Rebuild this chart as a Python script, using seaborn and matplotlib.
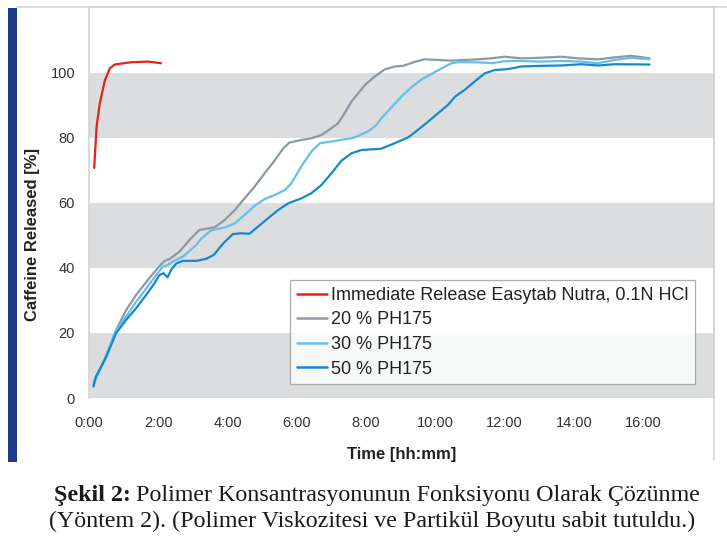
import numpy as np
import pandas as pd
import matplotlib
matplotlib.use("Agg")
import matplotlib.pyplot as plt
import seaborn as sns
from matplotlib.ticker import FuncFormatter, FixedLocator
from matplotlib.patches import Rectangle
from matplotlib.lines import Line2D

# time in hours, caffeine released in %
red_t = [0.15, 0.22, 0.31, 0.46, 0.60, 0.74, 1.22, 1.71, 2.08]
red_v = [70.8, 83.6, 90.6, 97.8, 101.4, 102.6, 103.3, 103.5, 103.0]

ph20_t = [0.13, 0.16, 0.40, 0.64, 0.83, 1.07, 1.36, 1.70, 1.98, 2.18, 2.32, 2.61, 2.90,
          3.19, 3.63, 3.92, 4.21, 4.49, 4.78, 5.07, 5.37, 5.61, 5.79, 6.13, 6.42, 6.71,
          7.00, 7.19, 7.38, 7.58, 7.77, 7.97, 8.25, 8.54, 8.83, 9.07, 9.40, 9.69, 10.08,
          10.47, 10.85, 11.23, 11.62, 12.00, 12.49, 13.07, 13.64, 14.12, 14.70, 15.18,
          15.66, 16.19]
ph20_v = [4.0, 5.5, 10.7, 16.8, 21.9, 27.0, 31.7, 36.3, 39.9, 42.2, 42.7, 45.0, 48.6,
          51.7, 52.5, 54.8, 57.8, 61.4, 65.0, 69.1, 73.2, 76.8, 78.6, 79.4, 79.9, 80.9,
          83.0, 84.5, 87.6, 91.2, 93.7, 96.3, 98.9, 101.1, 102.0, 102.2, 103.4, 104.2, 104.0,
          103.8, 104.0, 104.2, 104.5, 105.0, 104.5, 104.7, 105.0, 104.5, 104.2, 104.8,
          105.3, 104.5]

ph30_t = [0.16, 0.40, 0.78, 1.07, 1.36, 1.65, 1.94, 2.13, 2.27, 2.42, 2.71, 3.10, 3.24,
          3.52, 3.92, 4.21, 4.49, 4.78, 5.07, 5.37, 5.66, 5.84, 6.13, 6.42, 6.67, 7.00,
          7.38, 7.58, 7.77, 8.10, 8.30, 8.44, 8.73, 9.02, 9.31, 9.60, 9.89, 10.18, 10.47,
          10.66, 11.04, 11.43, 11.62, 12.00, 12.40, 13.07, 13.64, 14.22, 14.70, 15.18,
          15.66, 16.19]
ph30_v = [5.0, 10.5, 20.9, 25.0, 29.6, 33.7, 37.8, 40.4, 40.9, 42.0, 43.5, 47.1, 49.0,
          51.5, 52.5, 53.7, 56.3, 59.1, 61.2, 62.5, 64.0, 66.0, 71.2, 75.8, 78.4, 78.9,
          79.6, 79.9, 80.6, 82.3, 84.0, 86.0, 89.4, 92.7, 95.6, 98.0, 99.7, 101.4, 103.0,
          103.3, 103.3, 103.2, 103.0, 103.6, 103.7, 103.5, 103.7, 103.5, 103.0, 104.0,
          104.7, 104.2]

ph50_t = [0.13, 0.20, 0.50, 0.78, 1.07, 1.36, 1.65, 1.89, 2.03, 2.15, 2.27, 2.37, 2.52,
          2.71, 3.10, 3.38, 3.60, 3.88, 4.15, 4.40, 4.63, 4.88, 5.17, 5.46, 5.75, 6.13,
          6.42, 6.71, 7.00, 7.29, 7.58, 7.87, 8.44, 8.83, 9.22, 9.50, 9.79, 10.08, 10.37,
          10.57, 10.85, 11.14, 11.43, 11.72, 12.10, 12.49, 13.07, 13.64, 14.22, 14.70,
          15.18, 16.19]
ph50_v = [3.5, 6.6, 12.7, 19.9, 24.0, 27.6, 31.7, 35.3, 37.8, 38.4, 37.1, 39.4, 41.4,
          42.2, 42.2, 42.8, 44.0, 47.6, 50.4, 50.7, 50.5, 52.7, 55.3, 57.8, 59.9, 61.4,
          63.0, 65.5, 69.1, 73.0, 75.3, 76.3, 76.7, 78.4, 80.2, 82.5, 85.0, 87.6, 90.2,
          92.7, 94.8, 97.4, 99.9, 100.9, 101.2, 102.0, 102.2, 102.3, 102.7, 102.3,
          102.7, 102.6]

labels = ["Immediate Release Easytab Nutra, 0.1N HCl", "20 % PH175", "30 % PH175", "50 % PH175"]
colors = ["#e2231a", "#8b9aa6", "#64c0ea", "#1688cf"]
x_ticks = [0, 2, 4, 6, 8, 10, 12, 14, 16]
y_ticks = [0, 20, 40, 60, 80, 100]

df = pd.concat([
    pd.DataFrame({"t": red_t, "v": red_v, "series": labels[0]}),
    pd.DataFrame({"t": ph20_t, "v": ph20_v, "series": labels[1]}),
    pd.DataFrame({"t": ph30_t, "v": ph30_v, "series": labels[2]}),
    pd.DataFrame({"t": ph50_t, "v": ph50_v, "series": labels[3]}),
], ignore_index=True)

sns.set_style("white")
plt.rcParams["font.family"] = ["Liberation Sans", "DejaVu Sans"]

W, H = 727, 537
fig = plt.figure(figsize=(W / 100, H / 100), dpi=100)
ax = fig.add_axes([89 / W, 1 - 398 / H, (714 - 89) / W, (398 - 7) / H])

# grey bands
for lo in y_ticks[::2]:
    ax.axhspan(lo, lo + 20, color="#dcdddf", lw=0, zorder=0)

sns.lineplot(data=df, x="t", y="v", hue="series", hue_order=labels,
             palette=dict(zip(labels, colors)), estimator=None, sort=True,
             linewidth=1.6, ax=ax, legend=False)

ax.set_xlim(0, 18.05)
ax.set_ylim(0, 120.3)
ax.yaxis.set_major_locator(FixedLocator(y_ticks))
ax.xaxis.set_major_locator(FixedLocator(x_ticks))
ax.xaxis.set_major_formatter(FuncFormatter(lambda h, p: f"{int(h)}:{int(round((h % 1) * 60)):02d}"))
ax.tick_params(axis="both", length=0, labelsize=10.5, colors="#333333")
ax.tick_params(axis="y", pad=10)
ax.tick_params(axis="x", pad=13)

for s in ["top", "left", "right"]:
    ax.spines[s].set_color("#d4d4d4")
    ax.spines[s].set_linewidth(1.2)
ax.spines["bottom"].set_visible(False)

ax.set_xlabel("Time [hh:mm]", fontsize=12, fontweight="bold", color="#222222")
ax.set_ylabel("Caffeine Released [%]", fontsize=12, fontweight="bold", color="#222222")
ax.xaxis.set_label_coords(0.5, -0.125)
ax.yaxis.set_label_coords(-0.079, 0.417)

handles = [Line2D([0], [0], color=c, lw=1.8) for c in colors]
leg = ax.legend(handles, labels, loc="upper left", bbox_to_anchor=(0.3216, 0.3018),
                borderaxespad=0, fontsize=13, frameon=True, fancybox=False,
                handlelength=1.65, handletextpad=0.22, labelspacing=0.42,
                borderpad=0.38)
leg.get_frame().set_edgecolor("#9a9a9a")
leg.get_frame().set_linewidth(0.9)
for txt in leg.get_texts():
    txt.set_color("#222222")

# frame decorations
fig.patches.append(Rectangle((8 / W, 1 - 462 / H), 9 / W, 454 / H, transform=fig.transFigure,
                             color="#1f3a87", lw=0))
fig.lines.append(Line2D([17 / W, 1], [1 - 7 / H, 1 - 7 / H], transform=fig.transFigure,
                        color="#d4d4d4", lw=1.2))
fig.lines.append(Line2D([714 / W, 714 / W], [1 - 7 / H, 1 - 460 / H], transform=fig.transFigure,
                        color="#d4d4d4", lw=1.2))

# caption: bold lead-in followed by regular text, centred as a whole
cap_kw = dict(va="center", fontsize=17.3, family="Liberation Serif", color="#1a1a1a")
renderer = fig.canvas.get_renderer()
t_bold = fig.text(0, 1 - 496 / H, "Şekil 2: ", fontweight="bold", **cap_kw)
t_rest = fig.text(0, 1 - 496 / H, "Polimer Konsantrasyonunun Fonksiyonu Olarak Çözünme", **cap_kw)
wb = t_bold.get_window_extent(renderer).width
wr = t_rest.get_window_extent(renderer).width
x0 = 377 - (wb + wr) / 2
t_bold.set_x(x0 / W)
t_rest.set_x((x0 + wb) / W)
fig.text(372 / W, 1 - 521 / H, "(Yöntem 2). (Polimer Viskozitesi ve Partikül Boyutu sabit tutuldu.)",
         ha="center", **cap_kw)

fig.savefig("out.png", dpi=100)
